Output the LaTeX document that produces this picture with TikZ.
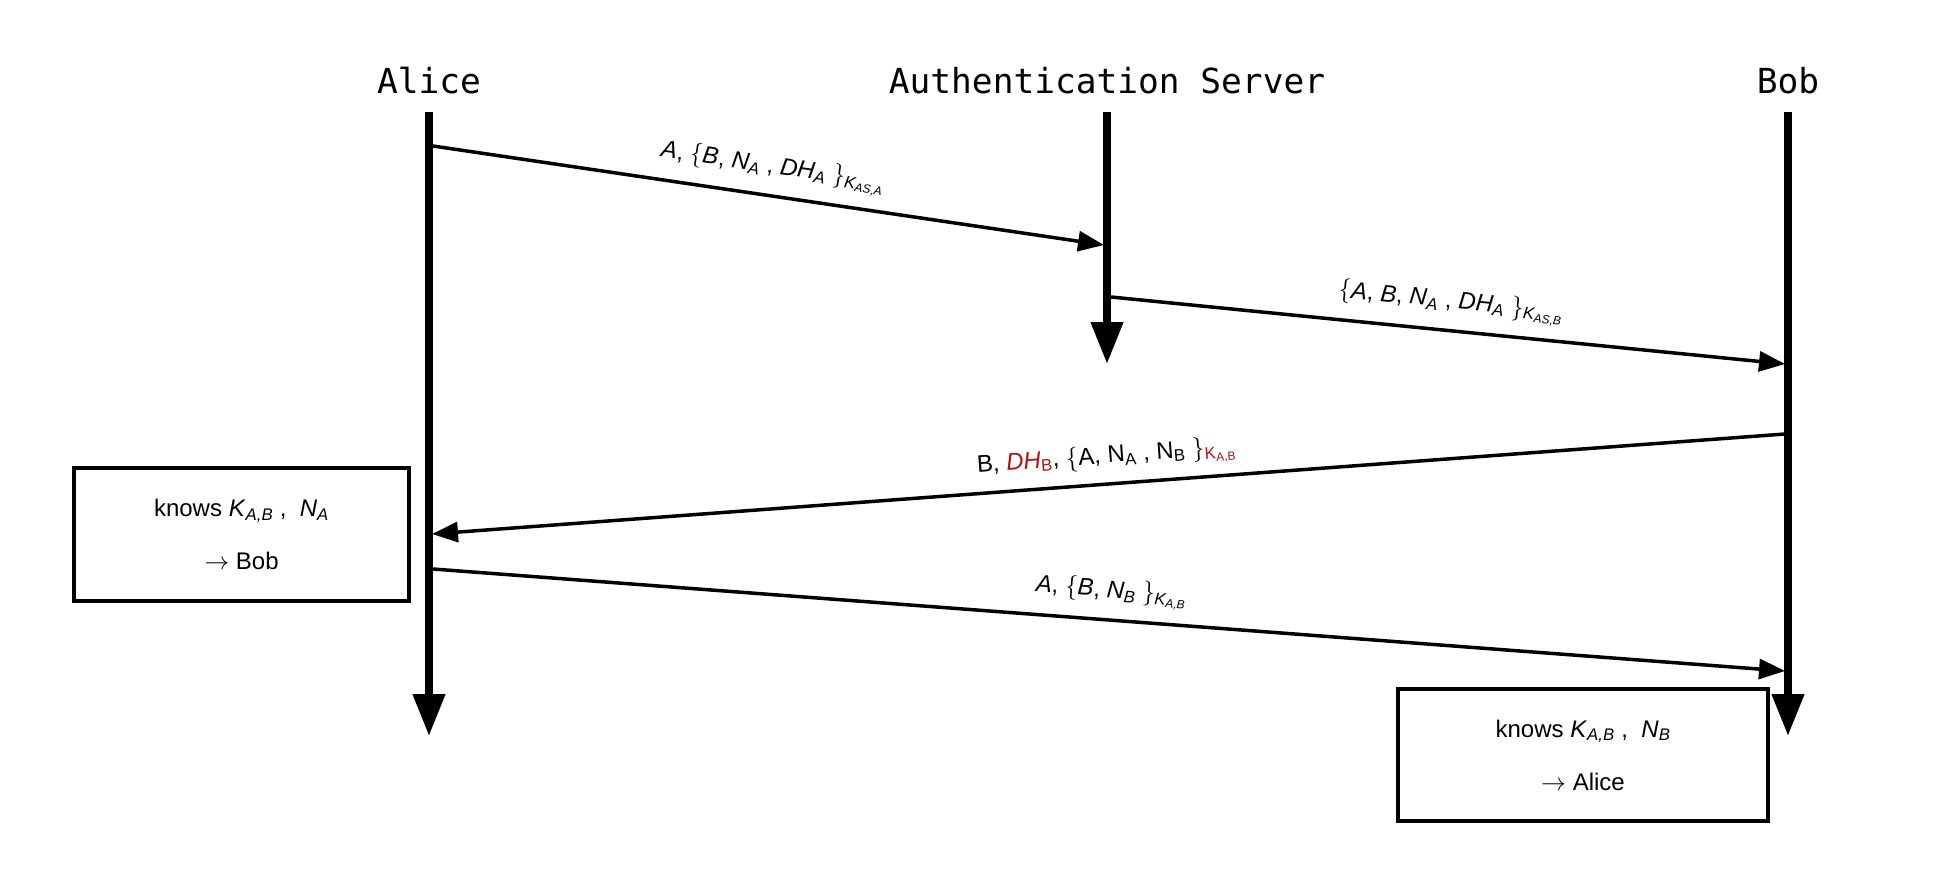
\documentclass[tikz,border=0pt]{standalone}
\usepackage{amsmath}
\usepackage{fontspec}
\setmainfont{Liberation Sans}
\newfontfamily\actorfont{DejaVu Sans Mono}
\usetikzlibrary{arrows.meta}
\definecolor{kred}{RGB}{175,20,20}
\newcommand\mi[1]{\textit{#1}}
\newcommand\mr[1]{\textup{#1}}
\newcommand\lb{$\{$}
\newcommand\rb{$\}$}
\begin{document}
\begin{tikzpicture}[x=1pt,y=-1pt,
  actor/.style={font=\actorfont\fontsize{34.5}{40}\selectfont, anchor=base, inner sep=0pt},
  lifeline/.style={line width=7.5pt, -{Triangle[width=31pt,length=42pt]}},
  msg/.style={line width=3.5pt, -{Triangle[width=20pt,length=26pt]}},
  lbl/.style={font=\fontsize{24}{28}\selectfont, midway, above=11pt, sloped, inner sep=2pt},
  note/.style={draw, line width=3.8pt, align=center, inner sep=0pt, font=\fontsize{24}{53}\selectfont}]
\useasboundingbox (0,0) rectangle (1955,873);

% actors
\node[actor] (alice) at (429,93.5) {Alice};
\node[actor] (server) at (1107,93.5) {Authentication Server};
\node[actor] (bob) at (1788,93.5) {Bob};

% lifelines
\coordinate (atop) at (429,112);
\coordinate (abot) at (429,736);
\coordinate (stop) at (1107,112);
\coordinate (sbot) at (1107,364);
\coordinate (btop) at (1788,112);
\coordinate (bbot) at (1788,736);
\draw[lifeline] (atop) -- (abot);
\draw[lifeline] (stop) -- (sbot);
\draw[lifeline] (btop) -- (bbot);

% message end points
\coordinate (m1s) at (433,146);
\coordinate (m1e) at (1104,245);
\coordinate (m2s) at (1111,297);
\coordinate (m2e) at (1785,364);
\coordinate (m3s) at (1785,434);
\coordinate (m3e) at (432,534);
\coordinate (m4s) at (433,569);
\coordinate (m4e) at (1785,671);

\draw[msg] (m1s) -- (m1e)
  node[lbl] {\mi{A}, \lb\mi{B}, \mi{N}$_{\mi{A}}$ , \mi{DH}$_{\mi{A}}$ \rb$_{\mi{K}_{\mi{AS,A}}}$};
\draw[msg] (m2s) -- (m2e)
  node[lbl] {\lb\mi{A}, \mi{B}, \mi{N}$_{\mi{A}}$ , \mi{DH}$_{\mi{A}}$ \rb$_{\mi{K}_{\mi{AS,B}}}$};
\draw[msg] (m3s) -- (m3e);
\path (m3e) -- (m3s)
  node[lbl] {\mr{B}, \textcolor{kred}{\mi{DH}$_{\mr{B}}$}, \lb\mr{A}, \mr{N}$_{\mr{A}}$ , \mr{N}$_{\mr{B}}$ \rb\textcolor{kred}{$_{\mr{K}_{\mr{A,B}}}$}};
\draw[msg] (m4s) -- (m4e)
  node[lbl] {\mi{A}, \lb\mi{B}, \mi{N}$_{\mi{B}}$ \rb$_{\mi{K}_{\mi{A,B}}}$};

% notes
\node[note, minimum width=335pt, minimum height=133pt] (knowa) at (241.5,534.5)
  {knows \mi{K}$_{\mi{A,B}}$ ,\ \ \mi{N}$_{\mi{A}}$\\ $\rightarrow$ Bob};
\node[note, minimum width=370pt, minimum height=132pt] (knowb) at (1583,755)
  {knows \mi{K}$_{\mi{A,B}}$ ,\ \ \mi{N}$_{\mi{B}}$\\ $\rightarrow$ Alice};
\end{tikzpicture}
\end{document}
